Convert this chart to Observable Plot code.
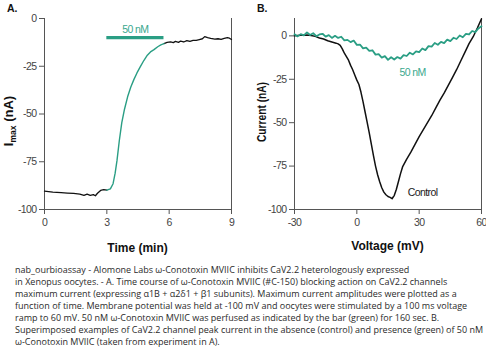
<!DOCTYPE html>
<html><head><meta charset="utf-8">
<script src="https://cdn.jsdelivr.net/npm/d3@7"></script>
<script src="https://cdn.jsdelivr.net/npm/@observablehq/plot@0.6"></script>
<style>
html,body{margin:0;padding:0;background:#fff;}
#root{position:relative;width:486px;height:348px;overflow:hidden;background:#fff;}
.panel{position:absolute;top:0;}
.panel svg text{letter-spacing:-0.6px;}
#overlay{position:absolute;left:0;top:0;pointer-events:none;}
#caption{position:absolute;left:15px;top:264px;width:470px;font-family:"Open Sans","Noto Sans",sans-serif;font-size:9px;line-height:12px;color:#2a2a2a;white-space:nowrap;}
</style>
</head><body>
<div id="root">
  <div id="pa" class="panel" style="left:0"></div>
  <div id="pb" class="panel" style="left:243px"></div>
  <svg id="overlay" width="486" height="260"></svg>
  <div id="caption"></div>
</div>
<script>
// ---- Panel A data: time course (min, nA)
const aPreT  = [0, 0.4, 0.8, 1.1, 1.4, 1.7, 1.9, 2.05, 2.2, 2.35, 2.45, 2.55, 2.7, 2.85, 3.0];
const aPreI  = [-90.4, -90.9, -91.2, -91.4, -91.6, -92.0, -92.6, -92.0, -92.6, -92.2, -92.8, -91.5, -90.0, -89.6, -89.9];
const aTxT   = [3.0, 3.17, 3.3, 3.4, 3.49, 3.6, 3.72, 3.85, 4.0, 4.15, 4.3, 4.45, 4.6, 4.78, 4.95, 5.1, 5.27, 5.45, 5.6, 5.75];
const aTxI   = [-89.9, -89.2, -86.5, -81, -74.3, -64, -54.5, -47.5, -41, -36, -32, -28.5, -25.5, -22, -19.2, -17.5, -16.3, -14.8, -13.8, -13.1];
const aPostT = [5.75, 5.9, 6.07, 6.2, 6.3, 6.45, 6.55, 6.7, 6.85, 7.0, 7.15, 7.3, 7.45, 7.6, 7.71, 7.85, 8.0, 8.2, 8.35, 8.5, 8.65, 8.8, 8.9, 9.0];
const aPostI = [-13.1, -12.5, -12.2, -12.6, -12.0, -12.5, -11.8, -12.3, -11.6, -12.0, -11.5, -11.4, -11.0, -10.6, -9.5, -10.0, -10.4, -10.8, -10.6, -10.9, -10.4, -10.0, -10.3, -11.0];
const aBarT = [3.0, 5.75];
const aBarI = -10;
const aXTicks = [0, 3, 6, 9];
const yTicks = [-100, -75, -50, -25, 0];

// ---- Panel B data: current-voltage (mV, nA)
const bToxV = [-30,-28.5,-27,-25.5,-24,-22.5,-21,-19.5,-18,-16.5,-15,-13.5,-12,-10.5,-9,-7.5,-6,-4.5,-3,-1.5,0,1.5,3,4.5,6,7.5,9,10.5,12,13.5,15,16.5,18,19.5,21,22.5,24,25.5,27,28.5,30,31.5,33,34.5,36,37.5,39,40.5,42,43.5,45,46.5,48,49.5,51,52.5,54,55.5,57,58.5,60];
const bToxI = [0.9,-0.3,1.0,0.3,2.0,0.5,1.5,-0.2,0.8,1.2,-0.4,0.4,-1.2,0.0,-1.2,-0.5,-2.6,-2.3,-3.6,-2.7,-5.2,-5.0,-7.2,-6.8,-8.7,-8.3,-10.8,-10.5,-12.5,-11.7,-13.8,-12.3,-13.6,-12.2,-13.1,-11.1,-11.6,-9.7,-10.7,-8.9,-9.4,-7.3,-8.2,-5.9,-6.2,-4.1,-5.1,-3.5,-4.2,-2.2,-3.0,-1.1,-1.8,0.2,-0.8,1.2,0.8,2.8,2.2,4.3,5.5];
const bCtlV = [-30,-27,-24,-22,-20,-18,-16,-14,-12,-10,-9,-8,-7,-6,-5,-4,-3,-2,-1,0,1,2,3,4,5,6,7,8,9,10,11,12,13,14,15,16,17,17.5,18,19,20,21,22,24,26,28,30,32,34,36,38,40,42,44,46,48,50,52,54,56,58,60];
const bCtlI = [0,0.3,0.5,0.2,-0.3,-1.2,-1.8,-2.8,-3.5,-4.2,-4.6,-5.5,-7.5,-10,-12,-14,-17,-19.5,-22.5,-25.5,-28,-32.5,-38,-44,-50,-56,-62.5,-69,-75,-80,-84,-87.5,-90,-91.5,-92.5,-93,-93.8,-92.8,-92,-88.5,-84,-79.5,-75.5,-71,-67,-62.5,-58,-54,-50,-46,-41.5,-37,-33,-28.5,-24,-19.5,-14.5,-9.5,-4.5,-0.5,4.5,9.8];
const bXTicks = [-30, 0, 30, 60];

const labels = {
  a: "A.", b: "B.",
  aX: "Time (min)", aYmain: "I", aYsub: "max", aYrest: " (nA)",
  bX: "Voltage (mV)", bY: "Current (nA)",
  bar: "50 nM", tox: "50 nM", ctl: "Control"
};
const captionLines = [
  "nab_ourbioassay - Alomone Labs \u03c9-Conotoxin MVIIC inhibits CaV2.2 heterologously expressed",
  "in Xenopus oocytes. - A. Time course of \u03c9-Conotoxin MVIIC (#C-150) blocking action on CaV2.2 channels",
  "maximum current (expressing \u03b11B + \u03b12\u03b41 + \u03b21 subunits). Maximum current amplitudes were plotted as a",
  "function of time. Membrane potential was held at -100 mV and oocytes were stimulated by a 100 ms voltage",
  "ramp to 60 mV. 50 nM \u03c9-Conotoxin MVIIC was perfused as indicated by the bar (green) for 160 sec. B.",
  "Superimposed examples of CaV2.2 channel peak current in the absence (control) and presence (green) of 50 nM",
  "\u03c9-Conotoxin MVIIC (taken from experiment in A)."
];

const GREEN = "#2a9e84";
const GREEN_TXT = "#3aa88e";
const AXIS = "#555";
const tickFont = "'Liberation Sans Narrow','Liberation Sans',Arial,sans-serif";
const fmt = d => String(d);

const zip = (xs, ys) => xs.map((x, i) => ({x, y: ys[i]}));

function axes(xdom, xticks, ydom) {
  return [
    Plot.axisX({ticks: xticks, tickFormat: fmt, tickSize: 5, tickPadding: 4, label: null, fontSize: 10.5, stroke: AXIS, color: "#444", fontFamily: tickFont}),
    Plot.axisY({ticks: yTicks, tickFormat: fmt, tickSize: 5, tickPadding: 3, label: null, fontSize: 10.5, stroke: AXIS, color: "#444", fontFamily: tickFont}),
    Plot.ruleX([xdom[0]], {stroke: AXIS}),
    Plot.ruleX([xdom[1]], {stroke: AXIS}),
    Plot.ruleY([ydom[0]], {stroke: AXIS})
  ];
}

const base = {width: 243, height: 260, marginTop: 18, marginBottom: 51, style: {background: "transparent", overflow: "visible"}};

const aX = [0, 9], aY = [-100, 0];
const plotA = Plot.plot({
  ...base, marginLeft: 44, marginRight: 12,
  x: {domain: aX}, y: {domain: aY},
  marks: [
    ...axes(aX, aXTicks, aY),
    Plot.line(zip(aPreT, aPreI), {x: "x", y: "y", stroke: "#111", strokeWidth: 1.3}),
    Plot.line(zip(aPostT, aPostI), {x: "x", y: "y", stroke: "#111", strokeWidth: 1.3}),
    Plot.line(zip(aTxT, aTxI), {x: "x", y: "y", stroke: GREEN, strokeWidth: 1.4}),
    Plot.ruleY([aBarI], {x1: aBarT[0], x2: aBarT[1], stroke: GREEN, strokeWidth: 3.2}),
    Plot.text([labels.bar], {x: (aBarT[0] + aBarT[1]) / 2, y: aBarI, dy: -8, fill: GREEN_TXT, fontSize: 10.5, fontFamily: tickFont})
  ]
});
document.getElementById("pa").appendChild(plotA);

const bX = [-30, 60], bY = [-100, 10];
const plotB = Plot.plot({
  ...base, marginLeft: 51, marginRight: 5,
  x: {domain: bX}, y: {domain: bY},
  marks: [
    ...axes(bX, bXTicks, bY),
    Plot.line(zip(bCtlV, bCtlI), {x: "x", y: "y", stroke: "#111", strokeWidth: 1.5}),
    Plot.line(zip(bToxV, bToxI), {x: "x", y: "y", stroke: GREEN, strokeWidth: 1.8}),
    Plot.text([labels.tox], {x: 20.5, y: -21, textAnchor: "start", fill: GREEN_TXT, fontSize: 10.5, fontFamily: tickFont}),
    Plot.text([labels.ctl], {x: 24.5, y: -90, textAnchor: "start", fill: "#1a1a1a", fontSize: 10.5, fontFamily: tickFont})
  ]
});
document.getElementById("pb").appendChild(plotB);

// overlay titles
const ov = d3.select("#overlay").style("font-family", "'Liberation Sans',Arial,sans-serif").style("font-weight", "bold").attr("fill", "#111");
ov.append("text").attr("x", 7).attr("y", 12).attr("font-size", 10.5).text(labels.a);
ov.append("text").attr("x", 257).attr("y", 12).attr("font-size", 10.5).text(labels.b);
ov.append("text").attr("x", 137.5).attr("y", 252).attr("text-anchor", "middle").attr("font-size", 12).text(labels.aX);
ov.append("text").attr("x", 387.5).attr("y", 250).attr("text-anchor", "middle").attr("font-size", 12).text(labels.bX);
const ty = ov.append("text").attr("transform", "translate(12.5,121) rotate(-90)").attr("text-anchor", "middle").attr("font-size", 13);
ty.append("tspan").text(labels.aYmain);
ty.append("tspan").attr("font-size", 8.5).attr("dy", 3).text(labels.aYsub);
ty.append("tspan").attr("dy", -3).text(labels.aYrest);
ov.append("text").attr("transform", "translate(266,112) rotate(-90)").attr("text-anchor", "middle").attr("font-size", 13)
  .attr("textLength", 60).attr("lengthAdjust", "spacingAndGlyphs").text(labels.bY);

// caption
const cap = d3.select("#caption");
captionLines.forEach(l => cap.append("div").text(l));
</script>
</body></html>
